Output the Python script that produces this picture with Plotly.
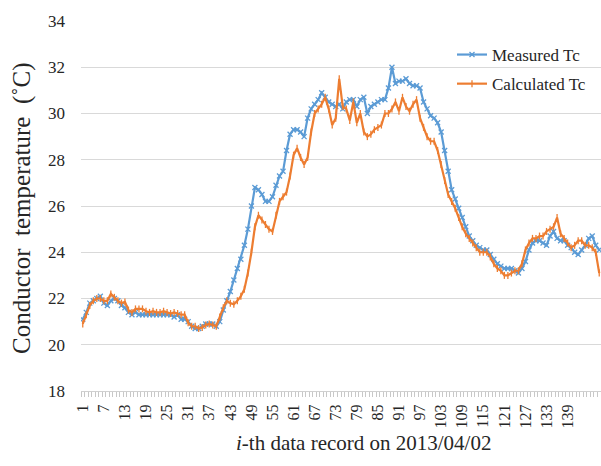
import plotly.graph_objects as go

records = list(range(1, 149))

measured = [
    21.1, 21.4, 21.8, 21.9, 22.0, 22.1, 21.8, 21.7, 21.9, 22.0,
    21.9, 21.7, 21.6, 21.4, 21.3, 21.4, 21.3, 21.3, 21.3, 21.3,
    21.3, 21.3, 21.3, 21.3, 21.3, 21.3, 21.2, 21.3, 21.1, 21.1,
    21.0, 20.8, 20.7, 20.7, 20.8, 20.9, 20.9, 20.9, 20.8, 21.0,
    21.5, 21.9, 22.3, 22.8, 23.3, 23.7, 24.3, 25.0, 26.0, 26.8,
    26.7, 26.5, 26.2, 26.2, 26.4, 26.9, 27.3, 27.5, 28.4, 29.1,
    29.3, 29.3, 29.2, 29.0, 29.8, 30.2, 30.4, 30.6, 30.9, 30.7,
    30.5, 30.4, 30.3, 30.4, 30.2, 30.5, 30.6, 30.6, 30.3, 30.6,
    30.7, 30.0, 30.3, 30.4, 30.5, 30.6, 30.6, 31.1, 32.0, 31.3,
    31.4, 31.4, 31.5, 31.3, 31.2, 31.2, 31.1, 30.5, 30.2, 29.9,
    29.8, 29.6, 29.2, 28.4, 27.5, 26.7, 26.3, 25.9, 25.5, 25.1,
    24.7, 24.5, 24.3, 24.2, 24.1, 24.1, 23.9, 23.7, 23.5, 23.4,
    23.3, 23.3, 23.3, 23.2, 23.1, 23.3, 23.6, 24.1, 24.4, 24.5,
    24.5, 24.4, 24.3, 24.7, 24.9, 24.6, 24.5, 24.5, 24.3, 24.2,
    24.0, 23.9, 24.1, 24.3, 24.6, 24.7, 24.3, 24.1,
]

calculated = [
    20.9, 21.3, 21.7, 21.9, 22.0, 22.0, 21.9, 21.9, 22.2, 22.05,
    21.9, 21.8, 21.85, 21.5, 21.4, 21.55, 21.55, 21.55, 21.45, 21.4,
    21.45, 21.4, 21.4, 21.45, 21.4, 21.35, 21.4, 21.35, 21.3, 21.3,
    20.95, 20.8, 20.8, 20.7, 20.75, 20.85, 20.9, 20.85, 20.8, 21.2,
    21.6, 21.9, 21.8, 21.75, 21.9, 22.1, 22.4, 23.1, 24.0, 25.1,
    25.6, 25.4, 25.2, 25.0, 24.9, 25.6, 26.2, 26.4, 26.6, 27.3,
    28.2, 28.5, 28.1, 27.8, 28.1, 29.2, 30.0, 30.2, 30.4, 30.7,
    30.2, 29.5, 29.8, 31.5, 30.3, 30.2, 29.7, 30.5, 29.6, 30.0,
    29.2, 29.0, 29.1, 29.3, 29.4, 29.5, 30.0, 30.0, 30.2, 30.5,
    30.1, 30.7, 30.3, 30.1, 30.4, 30.6, 29.8, 29.4, 29.0, 28.8,
    28.8, 28.4, 27.8, 27.1, 26.5, 26.2, 25.9, 25.5, 25.1, 24.8,
    24.6, 24.4, 24.2, 24.0, 24.0, 24.0, 23.8, 23.5, 23.3, 23.2,
    23.0, 23.0, 23.1, 23.2, 23.2, 23.5, 24.1, 24.4, 24.6, 24.6,
    24.7, 24.7, 24.9, 25.0, 25.1, 25.5, 24.8, 24.6, 24.4, 24.2,
    24.3, 24.5, 24.5, 24.3, 24.3, 24.2, 24.0, 23.1,
]

x_tick_vals = list(range(1, 140, 6))
x_tick_text = [str(v) for v in x_tick_vals]
y_tick_vals = list(range(18, 35, 2))

W, H = 601, 466
L, T, B, R = 81, 21, 75, 0
pw = W - L - R
ph = H - T - B

BLUE = "#5B9BD5"
ORANGE = "#ED7D31"
FONT = "Liberation Serif, Times New Roman, DejaVu Serif, serif"
TXT = "#262626"

fig = go.Figure()
fig.add_trace(go.Scatter(
    x=records, y=measured, name="Measured Tc", mode="lines+markers",
    legendgroup="m",
    line=dict(color=BLUE, width=2.2),
    marker=dict(symbol="x-thin", size=5, color=BLUE, line=dict(color=BLUE, width=1.3)),
))
fig.add_trace(go.Scatter(
    x=records, y=calculated, name="Calculated Tc", mode="lines+markers",
    legendgroup="c",
    line=dict(color=ORANGE, width=2.2),
    marker=dict(symbol="line-ns", size=5, color=ORANGE, line=dict(color=ORANGE, width=1.3)),
))

fig.update_layout(
    width=W, height=H,
    margin=dict(l=L, r=R, t=T, b=B),
    plot_bgcolor="white", paper_bgcolor="white",
    font=dict(family=FONT, color=TXT),
    showlegend=True,
    legend=dict(
        x=(452 - L) / pw, y=(H - B - 37) / ph, xanchor="left", yanchor="top",
        bgcolor="rgba(0,0,0,0)", font=dict(family=FONT, size=17, color=TXT),
        traceorder="grouped", tracegroupgap=4,
    ),
)

fig.update_xaxes(
    range=[0.5, 148.5],
    tickmode="array", tickvals=x_tick_vals, ticktext=x_tick_text,
    tickangle=-90, tickfont=dict(family=FONT, size=16, color=TXT),
    showgrid=False, zeroline=False,
    showline=True, linecolor="#d0d0d0", linewidth=1,
    ticks="", ticklabelstandoff=6,
    minor=dict(tickmode="linear", tick0=0.5, dtick=1, ticks="outside",
               ticklen=5, tickcolor="#c8c8c8", tickwidth=1, showgrid=False),
)
fig.update_yaxes(
    range=[18, 34],
    tickmode="array", tickvals=y_tick_vals,
    tickfont=dict(family=FONT, size=17, color=TXT),
    showgrid=True, gridcolor="#d9d9d9", gridwidth=1.2,
    zeroline=False, showline=False, ticks="", ticklabelstandoff=15,
)

fig.add_annotation(
    text="Conductor  temperature  (˚C)", textangle=-90,
    xref="paper", yref="paper", x=(22 - L) / pw, y=(H - B - 208) / ph,
    xanchor="center", yanchor="middle", showarrow=False,
    font=dict(family=FONT, size=25, color=TXT),
)
fig.add_annotation(
    text="<i>i</i>-th data record on 2013/04/02",
    xref="paper", yref="paper", x=(363 - L) / pw, y=-(443 - (H - B)) / ph,
    xanchor="center", yanchor="middle", showarrow=False,
    font=dict(family=FONT, size=21, color=TXT),
)

fig.write_html("out.html")
